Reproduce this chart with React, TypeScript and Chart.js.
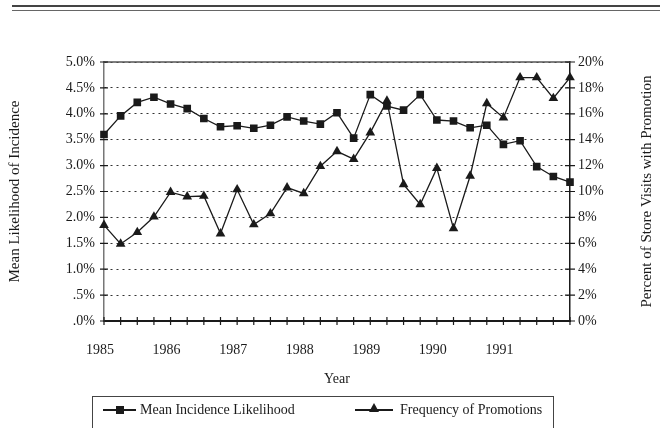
import React, { useEffect, useRef } from 'react';
import { Chart, registerables } from 'chart.js';

Chart.register(...registerables);

// ---- data ----
const xTickLabels = [
  '1985', '', '', '',
  '1986', '', '', '',
  '1987', '', '', '',
  '1988', '', '', '',
  '1989', '', '', '',
  '1990', '', '', '',
  '1991', '', '', '',
  '',
];
const meanIncidenceLikelihood = [
  3.60, 3.96, 4.22, 4.32,
  4.19, 4.10, 3.91, 3.75,
  3.77, 3.72, 3.78, 3.94,
  3.86, 3.80, 4.02, 3.53,
  4.37, 4.15, 4.07, 4.37,
  3.88, 3.86, 3.73, 3.78,
  3.41, 3.48, 2.98, 2.79,
  2.68,
];
const frequencyOfPromotions = [
  7.4, 5.95, 6.85, 8.05,
  9.95, 9.6, 9.65, 6.75,
  10.15, 7.45, 8.3, 10.3,
  9.85, 11.95, 13.1, 12.5,
  14.55, 17.0, 10.55, 9.0,
  11.8, 7.15, 11.2, 16.8,
  15.7, 18.8, 18.8, 17.2,
  18.8,
];
const seriesNames = ['Mean Incidence Likelihood', 'Frequency of Promotions'];
const leftAxisTitle = 'Mean Likelihood of Incidence';
const rightAxisTitle = 'Percent of Store Visits with Promotion';
const xAxisTitle = 'Year';

const FONT = '"Liberation Serif", "Times New Roman", serif';
const INK = '#1a1a1a';

const decorPlugin = {
  id: 'decor',
  afterDraw(chart: any) {
    const { ctx, chartArea, scales } = chart;
    const { left, right, top, bottom } = chartArea;
    ctx.save();
    // solid top frame line
    ctx.strokeStyle = '#555';
    ctx.lineWidth = 1.5;
    ctx.beginPath();
    ctx.moveTo(left, top);
    ctx.lineTo(right, top);
    ctx.stroke();
    // crossing tick marks
    ctx.strokeStyle = INK;
    ctx.lineWidth = 1.2;
    ctx.beginPath();
    scales.x.ticks.forEach((_: any, i: number) => {
      const x = scales.x.getPixelForTick(i);
      ctx.moveTo(x, bottom - 4);
      ctx.lineTo(x, bottom + 4);
    });
    scales.y.ticks.forEach((_: any, i: number) => {
      const y = scales.y.getPixelForTick(i);
      ctx.moveTo(left - 4, y);
      ctx.lineTo(left + 4, y);
    });
    scales.y1.ticks.forEach((_: any, i: number) => {
      const y = scales.y1.getPixelForTick(i);
      ctx.moveTo(right - 5, y);
      ctx.lineTo(right + 5, y);
    });
    ctx.stroke();
    // right axis title (reads bottom-to-top)
    ctx.translate(647, (top + bottom) / 2);
    ctx.rotate(-Math.PI / 2);
    ctx.font = '15px ' + FONT;
    ctx.fillStyle = INK;
    ctx.textAlign = 'center';
    ctx.textBaseline = 'middle';
    ctx.fillText(rightAxisTitle, 0, 0);
    ctx.restore();
  },
};

const fmtLeft = (v: number) => v.toFixed(1).replace(/^0/, '') + '%';

export default function App() {
  const ref = useRef<HTMLCanvasElement>(null);
  useEffect(() => {
    if (!ref.current) return;
    const chart = new Chart(ref.current, {
      type: 'line',
      data: {
        labels: xTickLabels,
        datasets: [
          {
            label: seriesNames[0],
            data: meanIncidenceLikelihood,
            yAxisID: 'y',
            borderColor: INK,
            borderWidth: 1.3,
            pointStyle: 'rect',
            pointRadius: 5.4,
            pointBackgroundColor: INK,
            pointBorderColor: INK,
            pointBorderWidth: 0,
            tension: 0,
          },
          {
            label: seriesNames[1],
            data: frequencyOfPromotions,
            yAxisID: 'y1',
            borderColor: INK,
            borderWidth: 1.3,
            pointStyle: 'triangle',
            pointRadius: 5.6,
            pointBackgroundColor: INK,
            pointBorderColor: INK,
            pointBorderWidth: 0,
            tension: 0,
          },
        ],
      },
      options: {
        animation: false,
        responsive: true,
        maintainAspectRatio: false,
        layout: { padding: { top: 62, left: 0, right: 0, bottom: 0 } },
        plugins: { legend: { display: false }, tooltip: { enabled: false } },
        scales: {
          x: {
            type: 'category',
            offset: false,
            grid: { display: false, drawTicks: false },
            border: { display: true, color: INK, width: 2 },
            ticks: {
              autoSkip: false,
              maxRotation: 0,
              minRotation: 0,
              padding: 21,
              labelOffset: -4,
              color: INK,
              font: { family: FONT, size: 14 },
            },
            title: {
              display: true,
              text: xAxisTitle,
              color: INK,
              font: { family: FONT, size: 14 },
              padding: { top: 0, bottom: 40 },
            },
            afterFit: (s: any) => {
              s.height = 107;
            },
          },
          y: {
            type: 'linear',
            position: 'left',
            min: 0,
            max: 5,
            grid: { display: true, color: '#333', lineWidth: 1, drawTicks: false },
            border: { display: true, color: '#777', width: 1.5, dash: [2, 4] },
            ticks: {
              stepSize: 0.5,
              padding: 9,
              color: INK,
              font: { family: FONT, size: 14 },
              callback: (v: any) => fmtLeft(Number(v)),
            },
            title: {
              display: true,
              text: leftAxisTitle,
              color: INK,
              font: { family: FONT, size: 15 },
              padding: { top: 6, bottom: 0 },
            },
            afterFit: (s: any) => {
              s.width = 104;
            },
          },
          y1: {
            type: 'linear',
            position: 'right',
            min: 0,
            max: 20,
            grid: { display: false, drawTicks: false },
            border: { display: true, color: INK, width: 1.5 },
            ticks: {
              stepSize: 2,
              padding: 8,
              color: INK,
              font: { family: FONT, size: 14 },
              callback: (v: any) => Number(v).toFixed(0) + '%',
            },
            afterFit: (s: any) => {
              s.width = 90;
            },
          },
        },
      },
      plugins: [decorPlugin],
    } as any);
    return () => chart.destroy();
  }, []);

  const legendText: React.CSSProperties = {
    position: 'absolute',
    top: 5,
    fontFamily: FONT,
    fontSize: 14,
    color: INK,
    lineHeight: '16px',
    whiteSpace: 'nowrap',
  };
  const lineSeg = (left: number, width: number): React.CSSProperties => ({
    position: 'absolute',
    left,
    top: 12,
    width,
    height: 1.5,
    background: INK,
  });

  return (
    <div
      style={{
        position: 'absolute',
        left: 0,
        top: 0,
        width: 660,
        height: 428,
        overflow: 'hidden',
        background: '#fff',
      }}
    >
      <div style={{ position: 'absolute', left: 12, top: 5, width: 648, height: 2, background: '#444' }} />
      <div style={{ position: 'absolute', left: 12, top: 10, width: 648, height: 1, background: '#666' }} />
      <div style={{ position: 'absolute', left: 0, top: 0, width: 660, height: 428 }}>
        <canvas ref={ref} />
      </div>
      <div
        style={{
          position: 'absolute',
          left: 92,
          top: 396,
          width: 462,
          height: 40,
          border: '1px solid #444',
          borderBottom: 'none',
          boxSizing: 'border-box',
        }}
      >
        <div style={lineSeg(10, 33)} />
        <div
          style={{
            position: 'absolute',
            left: 23,
            top: 9,
            width: 8,
            height: 8,
            background: INK,
          }}
        />
        <div style={{ ...legendText, left: 47 }}>{seriesNames[0]}</div>
        <div style={lineSeg(262, 38)} />
        <div
          style={{
            position: 'absolute',
            left: 276,
            top: 6,
            width: 0,
            height: 0,
            borderLeft: '5px solid transparent',
            borderRight: '5px solid transparent',
            borderBottom: '9px solid ' + INK,
          }}
        />
        <div style={{ ...legendText, left: 307 }}>{seriesNames[1]}</div>
      </div>
    </div>
  );
}
